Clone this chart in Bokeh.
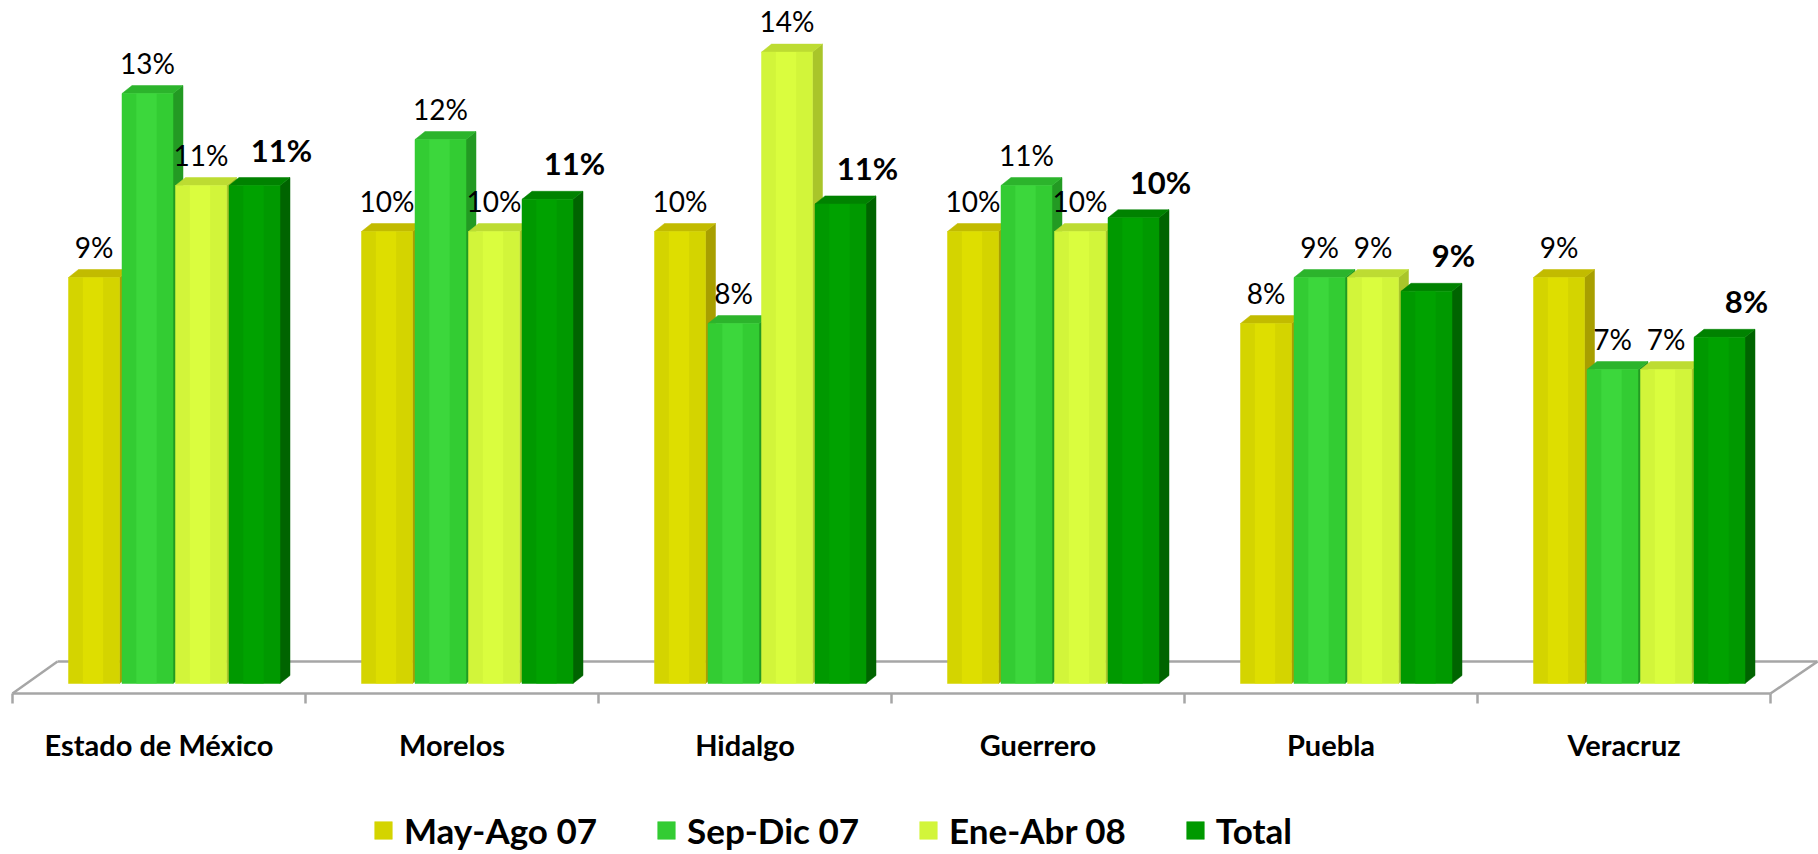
from bokeh.plotting import figure
from bokeh.models import ColumnDataSource, Legend, LegendItem, Range1d
from bokeh.embed import file_html
from bokeh.resources import INLINE
from bokeh.core.properties import value

# ---------------- data ----------------
states = ["Estado de México", "Morelos", "Hidalgo", "Guerrero", "Puebla", "Veracruz"]
series_names = ["May-Ago 07", "Sep-Dic 07", "Ene-Abr 08", "Total"]
may_ago_07 = [9.0, 10.0, 10.0, 10.0, 8.0, 9.0]
sep_dic_07 = [13.0, 12.0, 8.0, 11.0, 9.0, 7.0]
ene_abr_08 = [11.0, 10.0, 13.9, 10.0, 9.0, 7.0]
total = [11.0, 10.7, 10.6, 10.3, 8.7, 7.7]
series_values = [may_ago_07, sep_dic_07, ene_abr_08, total]

# ---------------- style ----------------
front_colors = ["#d4d400", "#33cc33", "#d2f53a", "#009900"]
light_colors = ["#e0e000", "#3ed93e", "#dcff40", "#00a400"]
side_colors = ["#a89f00", "#239a23", "#a9c52a", "#006400"]
top_colors = ["#c2bb00", "#2cb42c", "#bddc32", "#008200"]
FONT = "Lato"

W, H = 1818, 854
PX_X = 293.0   # pixels per category
PX_Y = 46.0    # pixels per percent
X0 = 12.0      # pixel of category axis start
BASE = 683.0   # pixel of value zero

GROUP_OFF = 56 / PX_X
PITCH = 53.5 / PX_X
FACE = 51 / PX_X
DX = 10 / PX_X
DY = 8 / PX_Y

p = figure(width=W, height=H, output_backend="svg", toolbar_location=None,
           x_range=Range1d(-X0 / PX_X, (W - X0) / PX_X),
           y_range=Range1d(-(H - BASE) / PX_Y, BASE / PX_Y),
           x_axis_location=None, y_axis_location=None,
           min_border=0, outline_line_color=None,
           background_fill_color="white", border_fill_color="white")
p.xgrid.visible = False
p.ygrid.visible = False

n = len(states)

# ---------------- 3D floor ----------------
front_y = (BASE - 693) / PX_Y
back_y = (BASE - 661) / PX_Y
tick_y = (BASE - 703) / PX_Y
back_l = 45 / PX_X
back_r = n + 47 / PX_X
floor_color = "#a6a6a6"
p.line([back_l, back_r], [back_y, back_y], line_color=floor_color, line_width=2.5)
p.line([back_l, 0], [back_y, front_y], line_color=floor_color, line_width=2.5)
p.line([back_r, n], [back_y, front_y], line_color=floor_color, line_width=2.5)
p.line([0, n], [front_y, front_y], line_color=floor_color, line_width=2.5)
p.segment(x0=list(range(n + 1)), y0=[front_y] * (n + 1),
          x1=list(range(n + 1)), y1=[tick_y] * (n + 1),
          line_color=floor_color, line_width=2.5)

# ---------------- bars ----------------
legend_items = []
for j, vals in enumerate(series_values):
    lefts = [i + GROUP_OFF + j * PITCH for i in range(n)]
    rights = [l + FACE for l in lefts]
    tops = [v - DY for v in vals]
    side_xs = [[r, r + DX, r + DX, r] for r in rights]
    side_ys = [[0, DY, v, v - DY] for v in vals]
    p.patches(side_xs, side_ys, fill_color=side_colors[j], line_color=side_colors[j], line_width=0.5)
    top_xs = [[l, l + DX, r + DX, r] for l, r in zip(lefts, rights)]
    top_ys = [[t, v, v, t] for t, v in zip(tops, vals)]
    p.patches(top_xs, top_ys, fill_color=top_colors[j], line_color=top_colors[j], line_width=0.5)
    src = ColumnDataSource(dict(left=lefts, right=rights, top=tops, bottom=[0] * n))
    r = p.quad(left="left", right="right", top="top", bottom="bottom", source=src,
               fill_color=front_colors[j], line_color=front_colors[j], line_width=0.5)
    p.quad(left=[l + FACE * 0.28 for l in lefts], right=[l + FACE * 0.68 for l in lefts],
           top=tops, bottom=[0] * n, fill_color=light_colors[j], line_color=None, fill_alpha=0.8)
    legend_items.append(LegendItem(label=series_names[j], renderers=[r]))

    centers = [l + FACE / 2 for l in lefts]
    labels = [f"{round(v)}%" for v in vals]
    lsrc = ColumnDataSource(dict(x=centers, y=vals, text=labels))
    if j == len(series_values) - 1:
        p.text(x="x", y="y", text="text", source=lsrc, text_font=value(FONT),
               text_font_size="31px", text_font_style="bold", text_color="#000000",
               text_align="center", text_baseline="alphabetic", x_offset=27, y_offset=-28)
    else:
        p.text(x="x", y="y", text="text", source=lsrc, text_font=value(FONT),
               text_font_size="28px", text_color="#000000",
               text_align="center", text_baseline="alphabetic", y_offset=-23)

# ---------------- category labels ----------------
csrc = ColumnDataSource(dict(x=[i + 0.5 for i in range(n)], y=[(BASE - 744) / PX_Y] * n, text=states))
p.text(x="x", y="y", text="text", source=csrc, text_font=value(FONT), text_font_size="29px",
       text_font_style="bold", text_color="#000000", text_align="center", text_baseline="alphabetic")

# ---------------- legend ----------------
legend = Legend(items=legend_items, orientation="horizontal", location=(372, 3),
                label_text_font=FONT, label_text_font_size="35px", label_text_font_style="bold",
                label_text_color="#000000", glyph_width=22, glyph_height=22,
                label_standoff=10, spacing=58, padding=0, margin=0,
                background_fill_alpha=0, border_line_alpha=0)
p.add_layout(legend, "center")

open("out.html", "w").write(file_html(p, INLINE))
